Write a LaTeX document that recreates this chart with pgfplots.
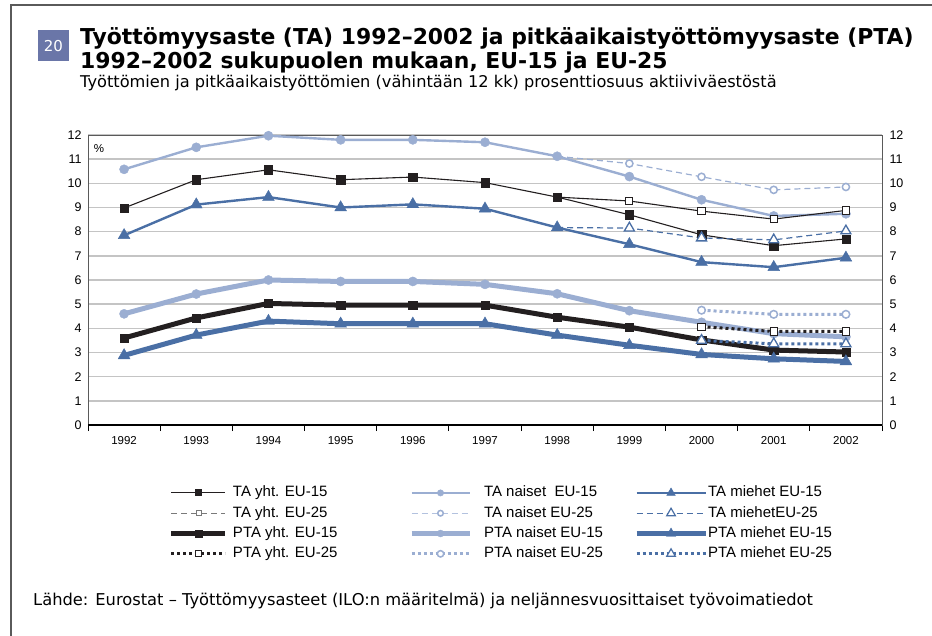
\documentclass[border=0pt]{standalone}
\usepackage{fontspec}
\setmainfont{DejaVu Sans}
\newfontfamily\condfont{Liberation Sans}
\newfontfamily\legfont{Liberation Sans}
\usepackage{pgfplots}
\pgfplotsset{compat=1.18}
\definecolor{blk}{HTML}{231F20}
\definecolor{mblue}{HTML}{4A6FA5}
\definecolor{lblue}{HTML}{9BAED2}
\definecolor{llblue}{HTML}{B3C2DF}
\definecolor{gridc}{HTML}{C4C4C4}
\definecolor{boxc}{HTML}{6A76A8}
\definecolor{framec}{HTML}{5A5A5A}
\definecolor{dgray}{HTML}{7A7A7A}
\pgfplotsset{
  geom/.style={at={(88bp,-425bp)}, anchor=south west, scale only axis,
    width=794bp, height=290bp, xmin=-0.5, xmax=10.5, ymin=0, ymax=12},
  legax/.style={geom, hide axis,
    legend cell align=left,
    legend image code/.code={\draw[mark repeat=2,mark phase=2,##1] plot coordinates {(0bp,0bp)(#1,0bp)(2*#1,0bp)};},
  },
  legst/.style 2 args={legend style={at={(#1,-0.21)}, anchor=north west, draw=none, fill=none,
    inner sep=0pt, outer sep=0pt, row sep=6.3bp,
    font=\legfont\fontsize{15bp}{15bp}\selectfont,
    nodes={inner sep=0pt, text height=10.8bp, text depth=3.2bp},
    /tikz/column 1/.style={column sep=#2}}},
  sqm/.style={mark=square*, mark size=4.2bp, mark options={line width=0.4bp}},
  cim/.style={mark=*, mark size=4.6bp, mark options={line width=0.4bp}},
  trm/.style={mark=triangle*, mark size=6.8bp, mark options={line width=0.4bp}},
}
\begin{document}
\begin{tikzpicture}
\path[use as bounding box] (0,0) rectangle (932bp,-636bp);
% frame
\draw[framec, line width=1.4bp] (11bp,-636bp) -- (11bp,-5bp) -- (932bp,-5bp);
% number box
\fill[boxc] (38bp,-30bp) rectangle (69bp,-61bp);
\node[white, font=\fontsize{15bp}{15bp}\selectfont] at (53.5bp,-46bp) {20};
% titles
\node[anchor=base west, inner sep=0pt, font=\bfseries\fontsize{21.9bp}{22bp}\selectfont] at (80bp,-44bp) {Työttömyysaste (TA) 1992–2002 ja pitkäaikaistyöttömyysaste (PTA)};
\node[anchor=base west, inner sep=0pt, font=\bfseries\fontsize{21.9bp}{22bp}\selectfont] at (80bp,-68bp) {1992–2002 sukupuolen mukaan, EU-15 ja EU-25};
\node[anchor=base west, inner sep=0pt, font=\fontsize{16.2bp}{16.2bp}\selectfont] at (80bp,-87bp) {Työttömien ja pitkäaikaistyöttömien (vähintään 12 kk) prosenttiosuus aktiiviväestöstä};
\node[anchor=base west, inner sep=0pt, font=\fontsize{16.3bp}{16.3bp}\selectfont] at (33bp,-605bp) {Lähde: Eurostat – Työttömyysasteet (ILO:n määritelmä) ja neljännesvuosittaiset työvoimatiedot};

\begin{axis}[geom,
  xtick={0,...,10},
  xticklabels={1992,1993,1994,1995,1996,1997,1998,1999,2000,2001,2002},
  minor xtick={-0.5,0.5,...,10.5},
  major tick length=0pt, minor tick length=6bp,
  tick align=outside, xtick pos=bottom, ytick pos=left,
  minor tick style={black, line width=1bp},
  ytick={0,...,12},
  ymajorgrids, grid style={gridc, line width=1.5bp},
  axis line style={framec, line width=0.8bp},
  tick label style={font=\condfont\fontsize{12.5bp}{12.5bp}\selectfont},
  xticklabel style={font=\condfont\fontsize{11.5bp}{11.5bp}\selectfont, yshift=-8bp},
  yticklabel style={xshift=-3bp},
  /pgf/number format/assume math mode=true,
  clip=false,
]
\draw[black, line width=1.5bp] (rel axis cs:0,0) -- (rel axis cs:1,0);
\node[anchor=west, inner sep=0pt, font=\condfont\fontsize{11.5bp}{11.5bp}\selectfont] at (axis cs:-0.42,11.45) {\%};
% PTA EU-15 (thick)
\addplot[lblue, line width=5bp, cim] coordinates {(0,4.6)(1,5.42)(2,6.0)(3,5.94)(4,5.94)(5,5.82)(6,5.43)(7,4.73)(8,4.25)(9,3.78)(10,3.65)};
\addplot[blk, line width=5bp, sqm] coordinates {(0,3.6)(1,4.43)(2,5.03)(3,4.96)(4,4.96)(5,4.96)(6,4.46)(7,4.05)(8,3.52)(9,3.1)(10,3.02)};
\addplot[mblue, line width=5bp, trm] coordinates {(0,2.88)(1,3.72)(2,4.3)(3,4.19)(4,4.19)(5,4.19)(6,3.72)(7,3.3)(8,2.92)(9,2.74)(10,2.63)};
% TA EU-15
\addplot[lblue, line width=2.4bp, cim] coordinates {(0,10.58)(1,11.49)(2,11.97)(3,11.8)(4,11.8)(5,11.7)(6,11.12)(7,10.28)(8,9.32)(9,8.65)(10,8.74)};
\addplot[blk, line width=1.1bp, sqm] coordinates {(0,8.98)(1,10.15)(2,10.56)(3,10.15)(4,10.26)(5,10.03)(6,9.43)(7,8.70)(8,7.87)(9,7.42)(10,7.70)};
\addplot[mblue, line width=2.4bp, trm] coordinates {(0,7.85)(1,9.12)(2,9.43)(3,9.0)(4,9.13)(5,8.95)(6,8.17)(7,7.48)(8,6.74)(9,6.53)(10,6.92)};
% TA EU-25
\addplot[lblue, line width=1.2bp, dash pattern=on 6bp off 4bp, mark=*, mark size=3.6bp, mark indices={2,3,4,5}, mark options={solid, fill=white, line width=1.5bp}] coordinates {(6,11.12)(7,10.82)(8,10.27)(9,9.73)(10,9.85)};
\addplot[mblue, line width=1.2bp, dash pattern=on 6bp off 4bp, mark=triangle*, mark size=5.8bp, mark indices={2,3,4,5}, mark options={solid, fill=white, line width=1.3bp}] coordinates {(6,8.17)(7,8.15)(8,7.74)(9,7.66)(10,8.03)};
\addplot[blk, line width=1.1bp, mark=square*, mark size=3.6bp, mark indices={2,3,4,5}, mark options={fill=white, line width=1bp}] coordinates {(6,9.43)(7,9.27)(8,8.85)(9,8.52)(10,8.88)};
% PTA EU-25 (dotted)
\addplot[lblue, line width=3bp, dash pattern=on 3bp off 3bp, mark=*, mark size=3.8bp, mark options={solid, fill=white, line width=1.5bp}] coordinates {(8,4.75)(9,4.58)(10,4.58)};
\addplot[blk, line width=3bp, dash pattern=on 3bp off 3bp, mark=square*, mark size=3.6bp, mark options={solid, fill=white, line width=1bp}] coordinates {(8,4.07)(9,3.87)(10,3.87)};
\addplot[mblue, line width=3bp, dash pattern=on 3bp off 3bp, mark=triangle*, mark size=5.8bp, mark options={solid, fill=white, line width=1.3bp}] coordinates {(8,3.5)(9,3.36)(10,3.36)};
\end{axis}

% right tick labels
\begin{axis}[geom, hide x axis, axis y line*=right, ytick={0,...,12},
  major tick length=0pt, y axis line style={draw=none},
  tick label style={font=\condfont\fontsize{12.5bp}{12.5bp}\selectfont},
  yticklabel style={xshift=4bp},
  /pgf/number format/assume math mode=true]
\end{axis}

% legend column 1
\begin{axis}[legax=27bp, legst={0.1020}{5bp}]
\addlegendimage{blk, line width=1.1bp, mark=square*, mark size=3bp}
\addlegendentry{TA yht. EU-15}
\addlegendimage{dgray, line width=1.1bp, dash pattern=on 6bp off 4bp, mark=square*, mark size=2.5bp, mark options={solid, fill=white, line width=0.8bp}}
\addlegendentry{TA yht. EU-25}
\addlegendimage{blk, line width=5bp, mark=square*, mark size=3.5bp, mark options={line width=0.4bp}}
\addlegendentry{PTA yht. EU-15}
\addlegendimage{blk, line width=3bp, dash pattern=on 3bp off 3bp, mark=square*, mark size=3bp, mark options={solid, fill=white, line width=1bp}}
\addlegendentry{PTA yht. EU-25}
\end{axis}
% legend column 2
\begin{axis}[legax=29bp, legst={0.4043}{12bp}]
\addlegendimage{lblue, line width=2.4bp, mark=*, mark size=3.2bp, mark options={line width=0.4bp}}
\addlegendentry{TA naiset~ EU-15}
\addlegendimage{llblue, line width=1.2bp, dash pattern=on 6bp off 4bp, mark=*, mark size=2.8bp, mark options={solid, fill=white, draw=lblue, line width=1.5bp}}
\addlegendentry{TA naiset EU-25}
\addlegendimage{lblue, line width=5bp, mark=*, mark size=3.5bp, mark options={line width=0.4bp}}
\addlegendentry{PTA naiset EU-15}
\addlegendimage{lblue, line width=3bp, dash pattern=on 3bp off 3bp, mark=*, mark size=3.2bp, mark options={solid, fill=white, line width=1.5bp}}
\addlegendentry{PTA naiset EU-25}
\end{axis}
% legend column 3
\begin{axis}[legax=34.5bp, legst={0.6877}{0bp}]
\addlegendimage{mblue, line width=2.4bp, mark=triangle*, mark size=5bp, mark options={line width=0.4bp}}
\addlegendentry{TA miehet EU-15}
\addlegendimage{mblue, line width=1.2bp, dash pattern=on 6bp off 4bp, mark=triangle*, mark size=5bp, mark options={solid, fill=white, line width=1.2bp}}
\addlegendentry{TA miehetEU-25}
\addlegendimage{mblue, line width=5bp, mark=triangle*, mark size=5.5bp, mark options={line width=0.4bp}}
\addlegendentry{PTA miehet EU-15}
\addlegendimage{mblue, line width=3bp, dash pattern=on 3bp off 3bp, mark=triangle*, mark size=5bp, mark options={solid, fill=white, line width=1.2bp}}
\addlegendentry{PTA miehet EU-25}
\end{axis}
\end{tikzpicture}
\end{document}
